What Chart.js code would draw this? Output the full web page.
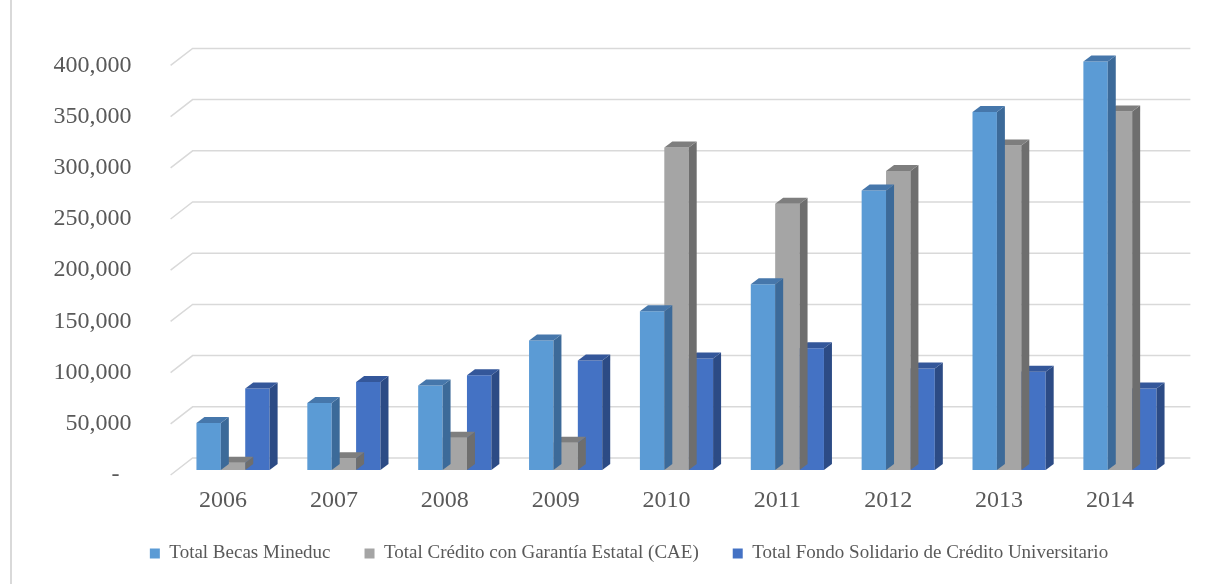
<!DOCTYPE html>
<html>
<head>
<meta charset="utf-8">
<script src="https://cdn.jsdelivr.net/npm/chart.js@4"></script>
<style>
  html, body { margin: 0; padding: 0; background: #fff; }
  #wrap { position: relative; width: 1232px; height: 584px; }
  #frame { position: absolute; left: 10px; top: 0; width: 2px; height: 584px; background: #d9d9d9; }
  canvas { position: absolute; left: 0; top: 0; }
</style>
</head>
<body>
<div id="wrap">
  <div id="frame"></div>
  <canvas id="chart" width="1232" height="584"></canvas>
</div>
<script>
// values
const years = ['2006', '2007', '2008', '2009', '2010', '2011', '2012', '2013', '2014'];
const becasMineduc = [46000, 65500, 82500, 126500, 155000, 181500, 273000, 349500, 399000];
const creditoCAE = [7000, 11500, 31500, 26500, 315000, 260000, 292000, 317000, 350000];
const fondoSolidario = [79500, 86000, 92500, 107000, 109000, 119000, 99000, 96000, 79500];
const yTicks = [0, 50000, 100000, 150000, 200000, 250000, 300000, 350000, 400000];

const seriesNames = [
  'Total Becas Mineduc',
  'Total Crédito con Garantía Estatal (CAE)',
  'Total Fondo Solidario de Crédito Universitario'
];
// front / side / top shades for each series
const shades = [
  { front: '#5b9bd5', side: '#3c6a99', top: '#4677ab' },
  { front: '#a5a5a5', side: '#6e6e6e', top: '#7e7e7e' },
  { front: '#4472c4', side: '#2c4b85', top: '#34579a' }
];

const DX = 8, DY = -6;          // bar depth
const WALL_DX = 15, WALL_DY = -12; // back wall offset

// back wall gridlines and the left side wall diagonals
const wallPlugin = {
  id: 'wall',
  beforeDatasetsDraw(chart) {
    const { ctx, chartArea } = chart;
    const y = chart.scales.y;
    ctx.save();
    ctx.strokeStyle = '#d9d9d9';
    ctx.lineWidth = 1.5;
    yTicks.forEach(v => {
      const py = y.getPixelForValue(v) + WALL_DY;
      ctx.beginPath();
      ctx.moveTo(chartArea.left - 7, py + 17);
      ctx.lineTo(chartArea.left + WALL_DX, py);
      ctx.lineTo(chartArea.right + WALL_DX, py);
      ctx.stroke();
    });
    ctx.restore();
  }
};

// side and top faces of each bar
const bar3dPlugin = {
  id: 'bar3d',
  afterDatasetDraw(chart, args) {
    const { ctx } = chart;
    const sh = shades[args.index];
    ctx.save();
    args.meta.data.forEach(bar => {
      const { x, y, base, width } = bar.getProps(['x', 'y', 'base', 'width'], true);
      const l = x - width / 2, r = x + width / 2;
      ctx.fillStyle = sh.side;
      ctx.beginPath();
      ctx.moveTo(r, y);
      ctx.lineTo(r + DX, y + DY);
      ctx.lineTo(r + DX, base + DY);
      ctx.lineTo(r, base);
      ctx.closePath();
      ctx.fill();
      ctx.fillStyle = sh.top;
      ctx.beginPath();
      ctx.moveTo(l, y);
      ctx.lineTo(l + DX, y + DY);
      ctx.lineTo(r + DX, y + DY);
      ctx.lineTo(r, y);
      ctx.closePath();
      ctx.fill();
    });
    ctx.restore();
  }
};

const serif = 'Liberation Serif, Times New Roman, serif';

new Chart(document.getElementById('chart'), {
  type: 'bar',
  data: {
    labels: years,
    datasets: [
      { label: seriesNames[0], data: becasMineduc, backgroundColor: shades[0].front },
      { label: seriesNames[1], data: creditoCAE, backgroundColor: shades[1].front },
      { label: seriesNames[2], data: fondoSolidario, backgroundColor: shades[2].front }
    ]
  },
  options: {
    responsive: false,
    animation: false,
    categoryPercentage: 0.66,
    barPercentage: 1,
    layout: { padding: { left: 30, right: 4, top: 59, bottom: 11 } },
    plugins: {
      tooltip: { enabled: false },
      legend: {
        position: 'bottom',
        labels: {
          boxWidth: 10,
          boxHeight: 10,
          padding: 34,
          color: '#595959',
          font: { family: serif, size: 19 }
        }
      }
    },
    scales: {
      x: {
        grid: { display: false },
        border: { display: false },
        ticks: {
          color: '#595959',
          font: { family: serif, size: 24 },
          padding: 8,
          labelOffset: -10
        },
        afterFit(scale) { scale.height = 40; }
      },
      y: {
        min: 0,
        max: 400000,
        grid: { display: false, drawTicks: false },
        border: { display: false },
        afterBuildTicks(scale) { scale.ticks = yTicks.map(v => ({ value: v })); },
        afterFit(scale) { scale.width = 147.6; },
        ticks: {
          color: '#595959',
          font: { family: serif, size: 24 },
          padding: 46,
          labelOffset: 5,
          callback: v => v === 0 ? '-  ' : v.toLocaleString('en-US')
        }
      },
      // empty right margin so the legend is centred like the reference
      yRight: {
        type: 'linear',
        position: 'right',
        grid: { display: false, drawTicks: false },
        border: { display: false },
        ticks: { display: false },
        afterFit(scale) { scale.width = 52.6; }
      }
    }
  },
  plugins: [wallPlugin, bar3dPlugin]
});
</script>
</body>
</html>
